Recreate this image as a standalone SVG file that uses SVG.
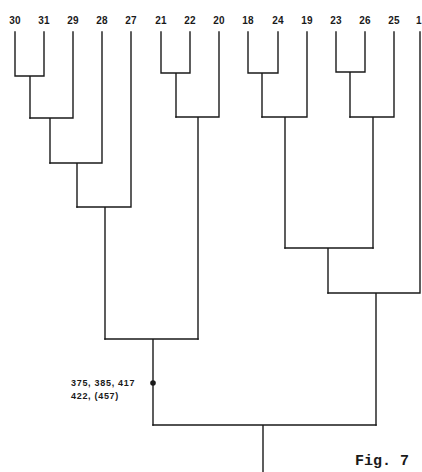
<svg xmlns="http://www.w3.org/2000/svg" width="422" height="472" viewBox="0 0 422 472">
<style>
.lbl{font-family:"Liberation Sans",Arial,sans-serif;font-size:10px;font-weight:bold;fill:#1a1a1a;text-anchor:middle;letter-spacing:0.3px}
.ann{font-family:"Liberation Sans",Arial,sans-serif;font-size:9px;font-weight:bold;fill:#1a1a1a;letter-spacing:0.7px}
.cap{font-family:"Liberation Mono","Courier New",monospace;font-size:15px;font-weight:bold;fill:#1a1a1a}
.ln{fill:none;stroke:#1a1a1a;stroke-width:1.4;stroke-linejoin:miter;stroke-linecap:square}
</style>
<rect width="422" height="472" fill="#ffffff"/>
<g id="leaves">
<g id="n30"><text class="lbl" x="15" y="24">30</text></g>
<g id="n31"><text class="lbl" x="44" y="24">31</text></g>
<g id="n29"><text class="lbl" x="73" y="24">29</text></g>
<g id="n28"><text class="lbl" x="102" y="24">28</text></g>
<g id="n27"><text class="lbl" x="131" y="24">27</text></g>
<g id="n21"><text class="lbl" x="161" y="24">21</text></g>
<g id="n22"><text class="lbl" x="190" y="24">22</text></g>
<g id="n20"><text class="lbl" x="219" y="24">20</text></g>
<g id="n18"><text class="lbl" x="248" y="24">18</text></g>
<g id="n24"><text class="lbl" x="278" y="24">24</text></g>
<g id="n19"><text class="lbl" x="307" y="24">19</text></g>
<g id="n23"><text class="lbl" x="336" y="24">23</text></g>
<g id="n26"><text class="lbl" x="365" y="24">26</text></g>
<g id="n25"><text class="lbl" x="394" y="24">25</text></g>
<g id="n1"><text class="lbl" x="419" y="24">1</text></g>
</g>
<g id="connectors">
<path class="ln" d="M15 32V76H44V32M30 76V118"/>
<path class="ln" d="M30 118H73V32M50 118V163"/>
<path class="ln" d="M50 163H102V32M77 163V207"/>
<path class="ln" d="M77 207H131V32M105 207V339"/>
<path class="ln" d="M161 32V73H190V32M176 73V117"/>
<path class="ln" d="M176 117H219V32M198 117V339"/>
<path class="ln" d="M105 339H198M153 339V425"/>
<path class="ln" d="M248 32V73H278V32M262 73V117"/>
<path class="ln" d="M262 117H307V32M285 117V248"/>
<path class="ln" d="M336 32V72H365V32M350 72V117"/>
<path class="ln" d="M350 117H394V32M373 117V248"/>
<path class="ln" d="M285 248H373M328 248V293"/>
<path class="ln" d="M328 293H420V32M376 293V425"/>
<path class="ln" d="M153 425H376M263 425V472"/>
</g>
<g id="annotation">
<circle cx="153" cy="383" r="2.8" fill="#1a1a1a"/>
<text class="ann" x="71" y="386">375, 385, 417</text>
<text class="ann" x="71" y="399">422, (457)</text>
</g>
<g id="caption"><text class="cap" x="355" y="465">Fig. 7</text></g>
</svg>
